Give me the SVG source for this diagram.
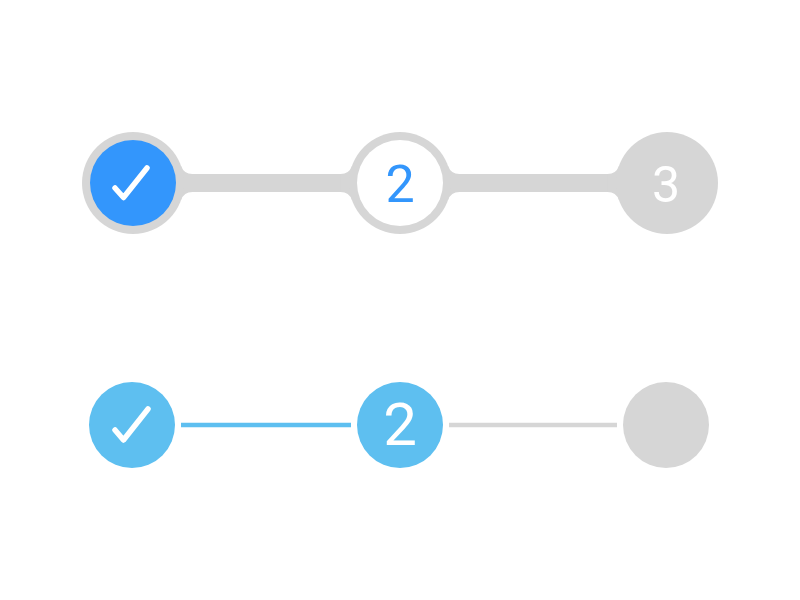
<svg xmlns="http://www.w3.org/2000/svg" xmlns:xlink="http://www.w3.org/1999/xlink" width="800" height="600" viewBox="0 0 800 600">
  <style>
    .gray { fill: #d6d6d6; }
    .blue { fill: #3396fc; }
    .lblue { fill: #5ebff0; }
    .check { fill: none; stroke: #ffffff; stroke-width: 5.5; stroke-linecap: round; stroke-linejoin: round; }
    .num { font-family: Roboto, "Liberation Sans", Arial, sans-serif; font-weight: 400; text-anchor: middle; }
    .conn-blue { stroke: #5ebff0; stroke-width: 4.5; }
    .conn-gray { stroke: #d6d6d6; stroke-width: 4.5; }
  </style>
  <defs>
    <path id="fillet" d="M0,0 L48.08,-17 A12 12 0 0 0 59.4,-9 L59.4,0 Z"/>
  </defs>
  <rect width="800" height="600" fill="#ffffff"/>

  <!-- Top row: connectors (track) -->
  <g id="top-connectors" class="gray">
    <rect x="180" y="174" width="440" height="18"/>
    <use xlink:href="#fillet" transform="translate(133,183)"/>
    <use xlink:href="#fillet" transform="translate(133,183) scale(1,-1)"/>
    <use xlink:href="#fillet" transform="translate(400,183) scale(-1,1)"/>
    <use xlink:href="#fillet" transform="translate(400,183) scale(-1,-1)"/>
    <use xlink:href="#fillet" transform="translate(400,183)"/>
    <use xlink:href="#fillet" transform="translate(400,183) scale(1,-1)"/>
    <use xlink:href="#fillet" transform="translate(667,183) scale(-1,1)"/>
    <use xlink:href="#fillet" transform="translate(667,183) scale(-1,-1)"/>
  </g>

  <g id="top-step1">
    <circle class="gray" cx="133" cy="183" r="51"/>
    <circle class="blue" cx="133" cy="183" r="43"/>
    <polyline class="check" points="115,188 123.5,197.5 147,168"/>
  </g>
  <g id="top-step2">
    <circle class="gray" cx="400" cy="183" r="51"/>
    <circle fill="#ffffff" cx="400" cy="183" r="43"/>
    <text class="num" x="400" y="202" font-size="52" fill="#3396fc">2</text>
  </g>
  <g id="top-step3">
    <circle class="gray" cx="667" cy="183" r="51"/>
    <text class="num" x="666" y="202" font-size="50" fill="#ffffff">3</text>
  </g>

  <!-- Bottom row -->
  <g id="bottom-connectors">
    <line class="conn-blue" x1="181" y1="425" x2="351" y2="425"/>
    <line class="conn-gray" x1="449" y1="425" x2="617" y2="425"/>
  </g>
  <g id="bottom-step1">
    <circle class="lblue" cx="132" cy="425" r="43"/>
    <polyline class="check" points="115,430 123.5,440 148,409"/>
  </g>
  <g id="bottom-step2">
    <circle class="lblue" cx="400" cy="425" r="43"/>
    <text class="num" x="400" y="445" font-size="60" fill="#ffffff">2</text>
  </g>
  <g id="bottom-step3">
    <circle class="gray" cx="666" cy="425" r="43"/>
  </g>
</svg>
